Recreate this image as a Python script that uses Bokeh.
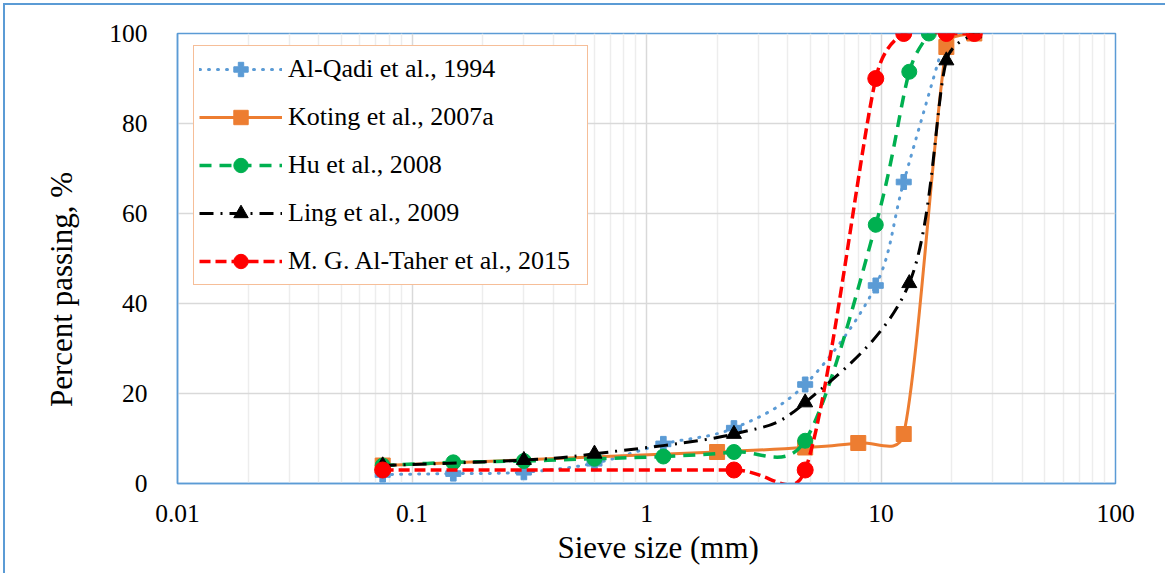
import numpy as np
from bokeh.plotting import figure
from bokeh.models import FixedTicker, Legend, LegendItem, CustomJSTickFormatter
from bokeh.embed import file_html
from bokeh.resources import INLINE

# ---------------- data ----------------
labels = ["Al-Qadi et al., 1994", "Koting et al., 2007a", "Hu et al., 2008",
          "Ling et al., 2009", "M. G. Al-Taher et al., 2015"]

sieve_alqadi = [0.075, 0.15, 0.3, 0.6, 1.18, 2.36, 4.75, 9.5, 12.5, 19]
pass_alqadi = [2, 2.2, 2.5, 4.5, 8.8, 12.3, 22, 44, 67, 100]

sieve_koting = [0.075, 2.0, 4.75, 8.0, 12.5, 19, 25]
pass_koting = [4, 7, 8, 9, 11, 97, 100]

sieve_hu = [0.075, 0.15, 0.3, 0.6, 1.18, 2.36, 4.75, 9.5, 13.2, 16]
pass_hu = [4, 4.7, 5, 5.5, 6, 7, 9.5, 57.5, 91.5, 100]

sieve_ling = [0.075, 0.3, 0.6, 2.36, 4.75, 13.2, 19, 25]
pass_ling = [4, 5.2, 6.6, 11, 18, 44.5, 94, 100]

sieve_altaher = [0.075, 2.36, 4.75, 9.5, 12.5, 19, 25]
pass_altaher = [3, 3, 3, 90, 100, 100, 100]

x_ticks = [0.01, 0.1, 1, 10, 100]
y_ticks = [0, 20, 40, 60, 80, 100]

# ---------------- layout ----------------
W, H = 1162, 570
OX, OY = 5, 5                      # canvas offset on the page
FL, FT, FR, FB = 177, 33, 1115, 483  # frame edges (page coords)
frame_w, frame_h = FR - FL, FB - FT
PX_DEC = frame_w / (np.log10(x_ticks[-1]) - np.log10(x_ticks[0]))
PX_Y = frame_h / (y_ticks[-1] - y_ticks[0])

SERIF = "Liberation Serif"
BLUE, ORANGE, GREEN, BLACK, RED = "#5B9BD5", "#ED7D31", "#00B050", "#000000", "#FF0000"
NB = "\u00a0"

p = figure(width=W, height=H, x_axis_type="log", x_range=(0.01, 100), y_range=(0, 100),
           output_backend="svg", toolbar_location=None,
           min_border_left=FL - OX, min_border_right=OX + W - FR,
           min_border_top=FT - OY, min_border_bottom=OY + H - FB)
p.styles = {"margin-left": "3px", "margin-top": "3px",
            "border-left": "2px solid #5B9BD5", "border-top": "2px solid #5B9BD5"}

p.outline_line_color = BLUE
p.outline_line_width = 1.5
p.background_fill_color = "white"
p.border_fill_color = "white"

xt = FixedTicker(ticks=x_ticks,
                 minor_ticks=[k * 10.0 ** e for e in range(-2, 2) for k in range(2, 10)])
p.xaxis.ticker = xt
p.xgrid.ticker = xt
p.xaxis.formatter = CustomJSTickFormatter(code="return tick.toString();")
yt = FixedTicker(ticks=y_ticks)
p.yaxis.ticker = yt
p.ygrid.ticker = yt

for ax in (p.xaxis, p.yaxis):
    ax.axis_line_color = BLUE
    ax.axis_line_width = 1.5
    ax.major_tick_line_color = None
    ax.minor_tick_line_color = None
    ax.major_label_text_font = SERIF
    ax.major_label_text_font_size = "25.5px"
    ax.major_label_text_color = "black"
    ax.axis_label_text_font = SERIF
    ax.axis_label_text_font_size = "31px"
    ax.axis_label_text_font_style = "normal"
    ax.axis_label_text_color = "black"

p.xaxis.axis_label = NB * 3 + "Sieve size (mm)"
p.yaxis.axis_label = "Percent passing, %" + NB * 8
p.xaxis.major_label_standoff = 15
p.xaxis.axis_label_standoff = 5
p.yaxis.major_label_standoff = 24
p.yaxis.axis_label_standoff = 27

p.xgrid.grid_line_color = "#D9D9D9"
p.xgrid.grid_line_width = 1.5
p.xgrid.minor_grid_line_color = "#EDEDED"
p.xgrid.minor_grid_line_width = 1.5
p.ygrid.grid_line_color = "#D9D9D9"
p.ygrid.grid_line_width = 1.5


def smooth_segments(xs, ys):
    """Excel-style smoothed line: cubic Bezier control points from neighbours,
    handle length limited to half the segment length (pixel space)."""
    P = np.column_stack([np.log10(xs) * PX_DEC, np.asarray(ys, float) * PX_Y])
    n = len(P)
    out = {k: [] for k in ("x0", "y0", "x1", "y1", "cx0", "cy0", "cx1", "cy1")}
    for i in range(n - 1):
        p0, p1, p2, p3 = P[max(i - 1, 0)], P[i], P[i + 1], P[min(i + 2, n - 1)]
        d = np.hypot(*(p2 - p1))
        t1, t2 = (p2 - p0) / 6.0, (p3 - p1) / 6.0
        lim = d / 2.0
        for t in (t1, t2):
            L = np.hypot(*t)
            if L > lim and L > 0:
                t *= lim / L
        c1, c2 = p1 + t1, p2 - t2
        for key, pt in (("x0", p1), ("x1", p2), ("cx0", c1), ("cx1", c2)):
            out[key].append(10 ** (pt[0] / PX_DEC))
        for key, pt in (("y0", p1), ("y1", p2), ("cy0", c1), ("cy1", c2)):
            out[key].append(pt[1] / PX_Y)
    return out


series = [
    (sieve_alqadi, pass_alqadi, BLUE, dict(line_width=3, line_dash="1 8", line_cap="round"), "plus", 15),
    (sieve_koting, pass_koting, ORANGE, dict(line_width=3), "square", 15),
    (sieve_hu, pass_hu, GREEN, dict(line_width=3.5, line_dash="12 8"), "circle", 15),
    (sieve_ling, pass_ling, BLACK, dict(line_width=3, line_dash="14 7 2 7"), "triangle", 15),
    (sieve_altaher, pass_altaher, RED, dict(line_width=3.5, line_dash="11 5"), "circle", 16),
]

items = []
for (xs, ys, col, lstyle, marker, size), lab in zip(series, labels):
    seg = smooth_segments(xs, ys)
    p.bezier(line_color=col, **seg, **lstyle)
    # zero-length line at the first point: only there to give the legend its line sample
    lg = p.line(x=[xs[0], xs[0]], y=[ys[0], ys[0]], line_color=col, **lstyle)
    sc = p.scatter(xs, ys, marker=marker, size=size, fill_color=col, line_color=col)
    items.append(LegendItem(label=lab, renderers=[lg, sc]))

legend = Legend(items=items, location=(16, 198), padding=5, spacing=12,
                label_height=36, glyph_height=36, glyph_width=83, label_standoff=6,
                label_width=294,
                border_line_color=ORANGE, border_line_width=1.5,
                background_fill_color="white", background_fill_alpha=1.0,
                label_text_font=SERIF, label_text_font_size="26px",
                label_text_color="black", margin=0)
p.add_layout(legend, "center")

open("out.html", "w").write(file_html(p, INLINE))
